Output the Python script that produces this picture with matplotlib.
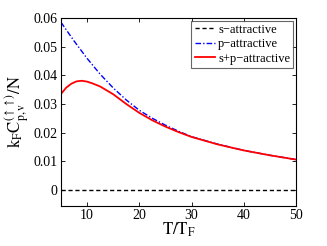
import matplotlib
matplotlib.use('Agg')
import matplotlib.pyplot as plt
import numpy as np

plt.rcParams['font.family'] = 'Liberation Serif'
plt.rcParams['mathtext.fontset'] = 'stix'

# temperature points
T_p = [5, 7.5, 10, 12.5, 15, 17.5, 20, 22.5, 25, 27.5, 30, 35, 40, 45, 50]
c_p = [0.0585, 0.0520, 0.0459, 0.0404, 0.0356, 0.0314, 0.0278, 0.0250,
       0.0226, 0.0205, 0.0186, 0.0160, 0.0138, 0.0121, 0.0106]

T_sp = [5, 6, 7, 8, 9, 10, 11, 12.5, 15, 17.5, 20, 22.5, 25, 27.5, 30, 35, 40, 45, 50]
c_sp = [0.0335, 0.0357, 0.0371, 0.0379, 0.0381, 0.0378, 0.0372, 0.0361,
        0.0334, 0.0300, 0.0269, 0.0243, 0.0221, 0.0202, 0.0185, 0.0159,
        0.0138, 0.0121, 0.0106]

T_s = [5, 50]
c_s = [0, 0]

xticks = [10, 20, 30, 40, 50]
yticks = [0, 0.01, 0.02, 0.03, 0.04, 0.05, 0.06]
ylabels = ['0', '0.01', '0.02', '0.03', '0.04', '0.05', '0.06']

fig = plt.figure(figsize=(3.27, 2.46), dpi=100)
ax = fig.add_axes([0.1865, 0.1626, 0.7185, 0.7642])

ax.plot(T_s, c_s, color='black', linestyle=(0, (3, 2)), lw=1.0, label='s\u2212attractive')
ax.plot(T_p, c_p, color='#0000ff', linestyle=(0, (4, 1.5, 1, 1.5)), lw=1.0, label='p\u2212attractive')
ax.plot(T_sp, c_sp, color='#ff0000', lw=1.3, label='s+p\u2212attractive')

ax.set_xlim(5, 50)
ax.set_ylim(-0.0056, 0.06)
ax.set_xticks(xticks)
ax.set_yticks(yticks)
ax.set_yticklabels(ylabels)
ax.tick_params(direction='in', length=3, top=True, right=True, labelsize=10, width=0.6, pad=2.5)
for s in ax.spines.values():
    s.set_linewidth(0.8)

ax.set_xlabel(r'$\mathrm{T/T_F}$', fontsize=12, labelpad=-1)
ax.set_ylabel(r'$\mathrm{k_F C^{(\uparrow\uparrow)}_{p,v}/N}$', fontsize=12, labelpad=2)

leg = ax.legend(loc='upper right', fontsize=9, handlelength=1.6, handletextpad=0.3,
                borderpad=0.25, labelspacing=0.2, borderaxespad=0.2, fancybox=False)
leg.get_frame().set_edgecolor('#404040')
leg.get_frame().set_linewidth(0.8)

fig.savefig('out.png', dpi=100)
